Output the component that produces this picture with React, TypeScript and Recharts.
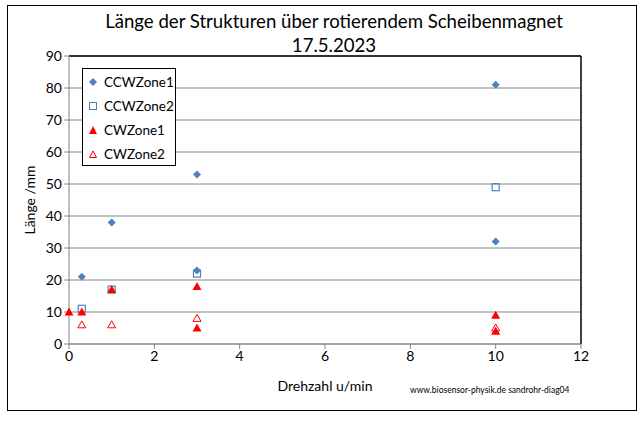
import React from "react";
import {
  CartesianGrid,
  ReferenceLine,
  Scatter,
  ScatterChart,
  XAxis,
  YAxis,
} from "recharts";

const ccwZone1 = [
  { x: 0.3, y: 21 },
  { x: 1, y: 38 },
  { x: 3, y: 53 },
  { x: 3, y: 23 },
  { x: 10, y: 81 },
  { x: 10, y: 32 },
];
const ccwZone2 = [
  { x: 0.3, y: 11 },
  { x: 1, y: 17 },
  { x: 3, y: 22 },
  { x: 10, y: 49 },
];
const cwZone1 = [
  { x: 0, y: 10 },
  { x: 0.3, y: 10 },
  { x: 1, y: 17 },
  { x: 3, y: 18 },
  { x: 3, y: 5 },
  { x: 10, y: 9 },
  { x: 10, y: 4 },
];
const cwZone2 = [
  { x: 0.3, y: 6 },
  { x: 1, y: 6 },
  { x: 3, y: 8 },
  { x: 10, y: 5 },
];

const xTicks = [0, 2, 4, 6, 8, 10, 12];
const yTicks = [0, 10, 20, 30, 40, 50, 60, 70, 80, 90];

const BLUE = "#4F81BD";
const RED = "#FF0000";
const FONT = "Lato, 'Open Sans', sans-serif";

const legendItems = [
  { name: "CCWZone1", kind: "diamond" },
  { name: "CCWZone2", kind: "square" },
  { name: "CWZone1", kind: "tri" },
  { name: "CWZone2", kind: "triOpen" },
];

function Marker({ kind }: { kind: string }) {
  return (
    <svg width={10} height={10} style={{ marginRight: 6, flex: "none" }}>
      {kind === "diamond" && <path d="M5 1 L9 5 L5 9 L1 5 Z" fill={BLUE} />}
      {kind === "square" && (
        <rect x={1.5} y={1.5} width={7} height={7} fill="none" stroke={BLUE} />
      )}
      {kind === "tri" && <path d="M5 1 L9 9 L1 9 Z" fill={RED} />}
      {kind === "triOpen" && (
        <path d="M5 2 L8.5 8.5 L1.5 8.5 Z" fill="none" stroke={RED} />
      )}
    </svg>
  );
}

function LegendBox() {
  return (
    <div
      style={{
        position: "absolute",
        left: 82,
        top: 68,
        boxSizing: "border-box",
        width: 94,
        height: 98,
        border: "1.5px solid #000",
        background: "#fff",
        padding: "1px 0 0 5px",
        fontFamily: FONT,
        fontSize: 13.5,
        color: "#000",
      }}
    >
      {legendItems.map((it) => (
        <div
          key={it.name}
          style={{ display: "flex", alignItems: "center", height: 24 }}
        >
          <Marker kind={it.kind} />
          {it.name}
        </div>
      ))}
    </div>
  );
}

const openSquare = (p: any) => (
  <rect
    x={p.cx - 3.5}
    y={p.cy - 3.5}
    width={7}
    height={7}
    fill="none"
    stroke={BLUE}
    strokeWidth={1.2}
  />
);
const diamond = (p: any) => (
  <path
    d={`M${p.cx} ${p.cy - 4} L${p.cx + 4} ${p.cy} L${p.cx} ${p.cy + 4} L${p.cx - 4} ${p.cy} Z`}
    fill={BLUE}
  />
);
const triangle = (p: any) => (
  <path
    d={`M${p.cx} ${p.cy - 4.5} L${p.cx + 4.5} ${p.cy + 3.5} L${p.cx - 4.5} ${p.cy + 3.5} Z`}
    fill={RED}
  />
);
const triangleOpen = (p: any) => (
  <path
    d={`M${p.cx} ${p.cy - 4} L${p.cx + 4} ${p.cy + 3} L${p.cx - 4} ${p.cy + 3} Z`}
    fill="none"
    stroke={RED}
    strokeWidth={1}
  />
);

export default function App() {
  return (
    <div
      style={{
        position: "absolute",
        left: 0,
        top: 0,
        width: 643,
        height: 428,
        background: "#fff",
        fontFamily: FONT,
      }}
    >
      <div
        style={{
          position: "absolute",
          left: 7,
          top: 5,
          width: 628,
          height: 404,
          border: "1.5px solid #000",
        }}
      />
      <div
        style={{
          position: "absolute",
          left: 0,
          width: 668,
          top: 9,
          textAlign: "center",
          fontSize: 18.6,
          lineHeight: "24px",
          color: "#000",
        }}
      >
        Länge der Strukturen über rotierendem Scheibenmagnet
        <br />
        17.5.2023
      </div>
      <ScatterChart
        width={643}
        height={428}
        margin={{ top: 56, right: 62, bottom: 54, left: 29 }}
        style={{ position: "absolute", left: 0, top: 0 }}
      >
        <CartesianGrid
          horizontal
          vertical={false}
          stroke="#868686"
          strokeWidth={1}
        />
        <XAxis
          type="number"
          dataKey="x"
          domain={[0, 12]}
          ticks={xTicks}
          height={30}
          stroke="#868686"
          tickSize={5}
          tick={{ fill: "#000", fontSize: 14, fontFamily: FONT }}
          label={{
            value: "Drehzahl u/min",
            position: "insideBottom",
            offset: -17,
            dx: 0,
            fill: "#000",
            fontSize: 14,
            fontFamily: FONT,
          }}
        />
        <YAxis
          type="number"
          dataKey="y"
          domain={[0, 90]}
          ticks={yTicks}
          width={40}
          stroke="#868686"
          tickSize={5}
          tick={{ fill: "#000", fontSize: 14, fontFamily: FONT }}
        />
        <ReferenceLine x={12} stroke="#000" strokeWidth={1.5} />
        <ReferenceLine y={90} stroke="#000" strokeWidth={1.5} />
        <Scatter
          name="CCWZone1"
          data={ccwZone1}
          fill={BLUE}
          shape={diamond}
          isAnimationActive={false}
        />
        <Scatter
          name="CCWZone2"
          data={ccwZone2}
          fill={BLUE}
          shape={openSquare}
          isAnimationActive={false}
        />
        <Scatter
          name="CWZone1"
          data={cwZone1}
          fill={RED}
          shape={triangle}
          isAnimationActive={false}
        />
        <Scatter
          name="CWZone2"
          data={cwZone2}
          fill={RED}
          shape={triangleOpen}
          isAnimationActive={false}
        />
      </ScatterChart>
      <div
        style={{
          position: "absolute",
          left: 30 - 50,
          top: 200 - 10,
          width: 100,
          height: 20,
          lineHeight: "20px",
          textAlign: "center",
          fontSize: 14,
          color: "#000",
          transform: "rotate(-90deg)",
        }}
      >
        Länge /mm
      </div>
      <LegendBox />
      <div
        style={{
          position: "absolute",
          left: 410,
          top: 385,
          fontSize: 8.5,
          color: "#000",
        }}
      >
        www.biosensor-physik.de sandrohr-diag04
      </div>
    </div>
  );
}
